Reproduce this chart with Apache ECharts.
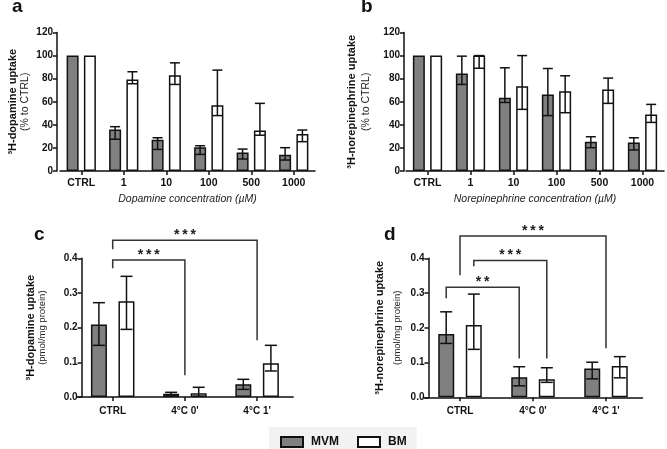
<!DOCTYPE html>
<html><head><meta charset="utf-8">
<script src="https://cdn.jsdelivr.net/npm/echarts@6/dist/echarts.min.js"></script>
<style>html,body{margin:0;padding:0;background:#fff}#c{width:667px;height:449px}</style>
</head><body><div id="c"></div>
<script>
// ---------- data ----------
const catsConc = ['CTRL', '1', '10', '100', '500', '1000'];
const catsTemp = ['CTRL', '4°C 0\'', '4°C 1\''];
const seriesNames = ['MVM', 'BM'];

// panel a: dopamine, % to CTRL
const aMVM = [100, 36, 27, 20.5, 16, 14];
const aMVMLo = [100, 27.5, 18.7, 14.4, 10.4, 9.5];
const aMVMHi = [100, 38.4, 28.8, 21.9, 19, 20.2];
const aBM = [100, 79.3, 83, 57, 35, 32];
const aBMLo = [100, 75.6, 75, 48, 31, 25.4];
const aBMHi = [100, 86, 93.7, 87.4, 58.6, 35.5];

// panel b: norepinephrine, % to CTRL
const bMVM = [100, 84.5, 63.5, 66.3, 25.4, 24.8];
const bMVMLo = [100, 75, 59.4, 48, 20.2, 18.2];
const bMVMHi = [100, 99.5, 89.4, 88.8, 29.7, 28.8];
const bBM = [100, 100, 73.5, 69.2, 70.7, 49];
const bBMLo = [100, 89, 53.4, 50.5, 58.6, 42.1];
const bBMHi = [100, 100, 100, 82.5, 80.5, 57.7];

// panel c: dopamine, pmol/mg protein
const cMVM = [0.209, 0.0095, 0.037];
const cMVMLo = [0.149, 0.006, 0.022];
const cMVMHi = [0.272, 0.0135, 0.051];
const cBM = [0.276, 0.0105, 0.097];
const cBMLo = [0.195, 0.002, 0.075];
const cBMHi = [0.348, 0.028, 0.149];

// panel d: norepinephrine, pmol/mg protein
const dMVM = [0.182, 0.0575, 0.083];
const dMVMLo = [0.155, 0.033, 0.053];
const dMVMHi = [0.246, 0.088, 0.101];
const dBM = [0.208, 0.052, 0.09];
const dBMLo = [0.138, 0.043, 0.056];
const dBMHi = [0.297, 0.085, 0.117];

// significance brackets: [fromCat, fromSlot(-1 MVM,0 centre,1 BM), toCat, toSlot, level, leftEnd, rightEnd]
const cBrackets = [[0, 0, 2, 0, 0.452, 0.426, 0.164], [0, 0, 1, 0, 0.395, 0.371, 0.063]];
const cBracketLabels = ['***', '***'];
const dBrackets = [[0, 0, 2, 0, 0.464, 0.351, 0.141], [0, 1, 1, 1, 0.394, 0.377, 0.112], [0, -1, 1, -1, 0.317, 0.285, 0.112]];
const dBracketLabels = ['***', '***', '**'];

const ticksPct = {min: 0, max: 120, interval: 20};
const ticksPmol = {min: 0, max: 0.4, interval: 0.1};

// ---------- chart ----------
const FONT = '"Liberation Sans", Arial, sans-serif';
const INK = '#111';
const GREY = '#808080';

function errData(mLo, mHi, bLo, bHi) {
  const out = [];
  mLo.forEach((v, i) => {
    out.push([i, mLo[i], mHi[i], -1]);
    out.push([i, bLo[i], bHi[i], 1]);
  });
  return out;
}
function errRender(sep, cap) {
  return function (params, api) {
    const i = api.value(0), lo = api.value(1), hi = api.value(2), s = api.value(3);
    if (lo === hi) return null;
    const p1 = api.coord([i, hi]), p2 = api.coord([i, lo]);
    const x = p1[0] + s * sep / 2;
    const st = {stroke: INK, lineWidth: 1.5};
    return {type: 'group', children: [
      {type: 'line', shape: {x1: x, y1: p1[1], x2: x, y2: p2[1]}, style: st},
      {type: 'line', shape: {x1: x - cap, y1: p1[1], x2: x + cap, y2: p1[1]}, style: st},
      {type: 'line', shape: {x1: x - cap, y1: p2[1], x2: x + cap, y2: p2[1]}, style: st}
    ]};
  };
}
function bracketRender(sep, labels) {
  return function (params, api) {
    const fc = api.value(0), fs = api.value(1), tc = api.value(2), ts = api.value(3);
    const lv = api.value(4), le = api.value(5), re = api.value(6);
    const pA = api.coord([fc, lv]), pB = api.coord([tc, lv]);
    const xL = pA[0] + fs * sep / 2, xR = pB[0] + ts * sep / 2;
    const yL = api.coord([fc, le])[1], yR = api.coord([tc, re])[1];
    return {type: 'group', children: [
      {type: 'polyline', shape: {points: [[xL, yL], [xL, pA[1]], [xR, pA[1]], [xR, yR]]},
       style: {stroke: '#333', lineWidth: 1.5, fill: null}},
      {type: 'text', x: (xL + xR) / 2, y: pA[1] - 5,
       style: {text: labels[params.dataIndex].split('').join('\u2009'), fill: '#222',
               font: 'bold 14px ' + FONT, textAlign: 'center', textVerticalAlign: 'middle'}}
    ]};
  };
}

const grids = [
  {left: 60, top: 32.5, width: 255, height: 138.5},
  {left: 406, top: 32.5, width: 258, height: 138.5},
  {left: 76.6, top: 258.3, width: 216.6, height: 138.7},
  {left: 423.5, top: 258.3, width: 219, height: 139}
];

const axisLineStyle = {show: true, lineStyle: {color: INK, width: 1.5}};
function xAxis(gi, cats, name, fs, margin) {
  return {
    type: 'category', gridIndex: gi, data: cats,
    axisLine: axisLineStyle,
    axisTick: {show: true, alignWithLabel: true, length: 4, lineStyle: {color: INK, width: 1.5}},
    axisLabel: {color: INK, fontWeight: 'bold', fontSize: fs, fontFamily: FONT, margin: margin},
    name: name, nameLocation: 'middle', nameGap: 23,
    nameTextStyle: {color: '#222', fontStyle: 'italic', fontSize: 10.5, fontFamily: FONT}
  };
}
function yAxis(gi, ticks, l1, l2, gap, offset, dec, fs2, lh) {
  return {
    type: 'value', gridIndex: gi, min: ticks.min, max: ticks.max, interval: ticks.interval,
    offset: offset,
    axisLine: axisLineStyle,
    axisTick: {show: true, length: 4, lineStyle: {color: INK, width: 1.5}},
    splitLine: {show: false},
    axisLabel: {color: INK, fontWeight: 'bold', fontSize: 10, fontFamily: FONT, margin: 4,
      formatter: v => v.toFixed(dec)},
    name: '{t|' + l1 + '}\n{s|' + l2 + '}', nameLocation: 'middle', nameGap: gap,
    nameTextStyle: {rich: {
      t: {fontWeight: 'bold', fontSize: 11, fontFamily: FONT, color: INK, lineHeight: lh},
      s: {fontSize: fs2, fontFamily: FONT, color: '#222', lineHeight: lh}
    }}
  };
}
function bars(gi, mvm, bm, bw, gap) {
  const base = {type: 'bar', xAxisIndex: gi, yAxisIndex: gi, barWidth: bw, barGap: gap, z: 2,
    animation: false};
  return [
    Object.assign({}, base, {name: seriesNames[0], data: mvm,
      itemStyle: {color: GREY, borderColor: INK, borderWidth: 1.5}}),
    Object.assign({}, base, {name: seriesNames[1], data: bm,
      itemStyle: {color: '#fff', borderColor: INK, borderWidth: 1.5}})
  ];
}
function errors(gi, data, sep, cap) {
  return {type: 'custom', xAxisIndex: gi, yAxisIndex: gi, z: 3, silent: true,
    renderItem: errRender(sep, cap), data: data, encode: {x: 0, y: [1, 2]}};
}
function brackets(gi, data, labels, sep) {
  return {type: 'custom', xAxisIndex: gi, yAxisIndex: gi, z: 4, silent: true, clip: false,
    renderItem: bracketRender(sep, labels), data: data, encode: {x: [0, 2], y: 4}};
}

const sepAB = 17.3, sepCD = 27.6;
const titleStyle = {fontSize: 19, fontWeight: 'bold', color: INK, fontFamily: FONT};
const option = {
  animation: false,
  backgroundColor: '#fff',
  title: [
    {text: 'a', left: 12, top: -3, padding: 0, textStyle: titleStyle},
    {text: 'b', left: 361, top: -3, padding: 0, textStyle: titleStyle},
    {text: 'c', left: 34, top: 225, padding: 0, textStyle: titleStyle},
    {text: 'd', left: 384, top: 225, padding: 0, textStyle: titleStyle}
  ],
  legend: {
    data: seriesNames, left: 269, top: 427, padding: [9, 10, 10, 11],
    backgroundColor: '#f2f2f2', itemWidth: 22, itemHeight: 10, itemGap: 18, icon: 'rect',
    textStyle: {fontWeight: 'bold', fontSize: 12, fontFamily: FONT, color: INK, padding: [0, 0, 0, 3]}
  },
  grid: grids,
  xAxis: [
    xAxis(0, catsConc, 'Dopamine concentration (µM)', 10.5, 7),
    xAxis(1, catsConc, 'Norepinephrine concentration (µM)', 10.5, 7),
    xAxis(2, catsTemp, '', 10, 9),
    xAxis(3, catsTemp, '', 10, 9)
  ],
  yAxis: [
    yAxis(0, ticksPct, '³H-dopamine uptake', '(% to CTRL)', 25, 3, 0, 10.5, 13),
    yAxis(1, ticksPct, '³H-norepinephrine uptake', '(% to CTRL)', 30, 2, 0, 10.5, 15),
    yAxis(2, ticksPmol, '³H-dopamine uptake', '(pmol/mg protein)', 34, -5, 1, 9.5, 11),
    yAxis(3, ticksPmol, '³H-norepinephrine uptake', '(pmol/mg protein)', 23, -5, 1, 9.5, 17)
  ],
  series: [].concat(
    bars(0, aMVM, aBM, 12, '44%'),
    [errors(0, errData(aMVMLo, aMVMHi, aBMLo, aBMHi), sepAB, 5)],
    bars(1, bMVM, bBM, 12, '44%'),
    [errors(1, errData(bMVMLo, bMVMHi, bBMLo, bBMHi), sepAB, 5)],
    bars(2, cMVM, cBM, 16, '72%'),
    [errors(2, errData(cMVMLo, cMVMHi, cBMLo, cBMHi), sepCD, 6)],
    [brackets(2, cBrackets, cBracketLabels, sepCD)],
    bars(3, dMVM, dBM, 16, '72%'),
    [errors(3, errData(dMVMLo, dMVMHi, dBMLo, dBMHi), sepCD, 6)],
    [brackets(3, dBrackets, dBracketLabels, sepCD)]
  )
};
const chart = echarts.init(document.getElementById('c'));
chart.setOption(option);
</script>
</body></html>
